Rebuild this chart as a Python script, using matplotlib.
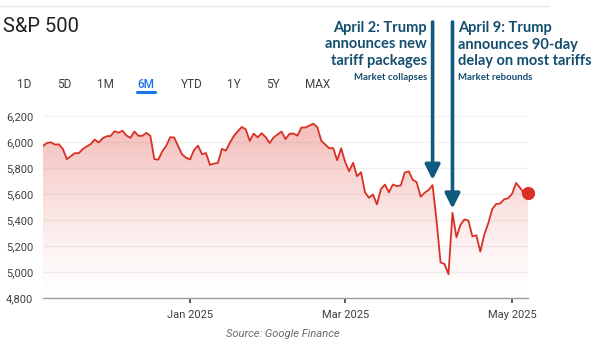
import matplotlib
matplotlib.use("Agg")
import matplotlib.pyplot as plt
import numpy as np
from matplotlib.patches import Polygon
from matplotlib.colors import to_rgb

# S&P 500 daily closes, trading days only
dates = [
    "2024-11-07", "2024-11-08", "2024-11-11", "2024-11-12", "2024-11-13", "2024-11-14", "2024-11-15",
    "2024-11-18", "2024-11-19", "2024-11-20", "2024-11-21", "2024-11-22", "2024-11-25", "2024-11-26",
    "2024-11-27", "2024-11-29",
    "2024-12-02", "2024-12-03", "2024-12-04", "2024-12-05", "2024-12-06", "2024-12-09", "2024-12-10",
    "2024-12-11", "2024-12-12", "2024-12-13", "2024-12-16", "2024-12-17", "2024-12-18", "2024-12-19",
    "2024-12-20", "2024-12-23", "2024-12-24", "2024-12-26", "2024-12-27", "2024-12-30", "2024-12-31",
    "2025-01-02", "2025-01-03", "2025-01-06", "2025-01-07", "2025-01-08", "2025-01-10", "2025-01-13",
    "2025-01-14", "2025-01-15", "2025-01-16", "2025-01-17", "2025-01-21", "2025-01-22", "2025-01-23",
    "2025-01-24", "2025-01-27", "2025-01-28", "2025-01-29", "2025-01-30", "2025-01-31",
    "2025-02-03", "2025-02-04", "2025-02-05", "2025-02-06", "2025-02-07", "2025-02-10", "2025-02-11",
    "2025-02-12", "2025-02-13", "2025-02-14", "2025-02-18", "2025-02-19", "2025-02-20", "2025-02-21",
    "2025-02-24", "2025-02-25", "2025-02-26", "2025-02-27", "2025-02-28",
    "2025-03-03", "2025-03-04", "2025-03-05", "2025-03-06", "2025-03-07", "2025-03-10", "2025-03-11",
    "2025-03-12", "2025-03-13", "2025-03-14", "2025-03-17", "2025-03-18", "2025-03-19", "2025-03-20",
    "2025-03-21", "2025-03-24", "2025-03-25", "2025-03-26", "2025-03-27", "2025-03-28", "2025-03-31",
    "2025-04-01", "2025-04-02", "2025-04-03", "2025-04-04", "2025-04-07", "2025-04-08", "2025-04-09",
    "2025-04-10", "2025-04-11", "2025-04-14", "2025-04-15", "2025-04-16", "2025-04-17", "2025-04-21",
    "2025-04-22", "2025-04-23", "2025-04-24", "2025-04-25", "2025-04-28", "2025-04-29", "2025-04-30",
    "2025-05-01", "2025-05-02", "2025-05-05", "2025-05-06", "2025-05-07",
]
closes = [
    5973, 5996, 6001, 5984, 5985, 5949, 5871,
    5894, 5917, 5917, 5949, 5969, 5987, 6022,
    5999, 6032,
    6047, 6050, 6086, 6075, 6090, 6053, 6035,
    6084, 6051, 6051, 6074, 6051, 5872, 5867,
    5931, 5974, 6040, 6038, 5971, 5907, 5882,
    5869, 5942, 5975, 5909, 5918, 5827, 5836,
    5843, 5950, 5937, 5997, 6049, 6086, 6119,
    6101, 6012, 6068, 6039, 6071, 6041,
    5995, 6038, 6061, 6084, 6026, 6066, 6069,
    6052, 6115, 6115, 6130, 6144, 6118, 6013,
    5983, 5955, 5956, 5862, 5955,
    5850, 5778, 5843, 5739, 5770, 5615, 5572,
    5599, 5522, 5639, 5675, 5615, 5675, 5663,
    5668, 5768, 5777, 5712, 5693, 5581, 5612,
    5633, 5671, 5397, 5074, 5062, 4983, 5457,
    5268, 5363, 5406, 5397, 5276, 5283, 5158,
    5288, 5376, 5485, 5525, 5529, 5561, 5569,
    5604, 5687, 5650, 5607, 5610,
]
tick_dates = ["2025-01-02", "2025-03-03", "2025-05-01"]
tick_labels = ["Jan 2025", "Mar 2025", "May 2025"]
y_ticks = [4800, 5000, 5200, 5400, 5600, 5800, 6000, 6200]
ranges = ["1D", "5D", "1M", "6M", "YTD", "1Y", "5Y", "MAX"]
active_range = "6M"
events = [
    {"date": "2025-04-02", "lines": ["April 2: Trump", "announces new", "tariff packages"],
     "note": "Market collapses", "side": "left"},
    {"date": "2025-04-09", "lines": ["April 9: Trump", "announces 90-day", "delay on most tariffs"],
     "note": "Market rebounds", "side": "right"},
]

W, H = 594, 346
RED = "#d93025"
NAVY = "#134e6f"
ARROW = "#0f5a7e"

x = np.arange(len(closes))
y = np.array(closes, dtype=float)

fig = plt.figure(figsize=(W / 100, H / 100), dpi=100)
fig.patch.set_facecolor("white")


def fx(px):
    return px / W


def fy(py):
    return 1 - py / H


# thin separator at the top of the card
fig.add_artist(plt.Line2D([0, fx(548)], [fy(6), fy(6)], color="#e6e6e6", lw=1))

fig.text(fx(3), fy(26), "S&P 500", fontsize=14.5, family="Roboto", color="#202124", va="center")

range_x = [24, 64, 105, 146, 192, 234, 273, 318]
for label, rx in zip(ranges, range_x):
    active = label == active_range
    fig.text(fx(rx), fy(84), label, fontsize=8.5, family="Roboto",
             color="#1a73e8" if active else "#3c4043",
             weight="medium" if active else "normal", ha="center", va="center")
    if active:
        fig.add_artist(plt.Line2D([fx(rx - 9), fx(rx + 9)], [fy(92.5), fy(92.5)],
                                  color="#1a73e8", lw=2.2, solid_capstyle="round"))

ax = fig.add_axes([fx(43), fy(298), fx(528) - fx(43), (298 - 110) / H])
ax.set_xlim(0, len(closes) - 1)
ax.set_ylim(4800, 6250)

# gradient fill under the price line, fading out towards the bottom
r, g, b = to_rgb(RED)
n = 256
alpha = 0.32 * np.linspace(0.0, 1.0, n) ** 1.3
grad = np.zeros((n, 1, 4))
grad[..., 0], grad[..., 1], grad[..., 2] = r, g, b
grad[:, 0, 3] = alpha
top = y.max()
img = ax.imshow(grad, extent=[0, len(closes) - 1, 4800, top], origin="lower",
                aspect="auto", zorder=1, interpolation="bilinear")
poly = Polygon(np.column_stack([np.r_[x, x[-1], x[0]], np.r_[y, 4800, 4800]]),
               closed=True, facecolor="none", edgecolor="none")
ax.add_patch(poly)
img.set_clip_path(poly)

ax.plot(x, y, color=RED, lw=1.3, zorder=3, solid_joinstyle="round")
ax.plot(x[-1], y[-1], "o", color=RED, ms=8.5, zorder=4, clip_on=False)

ax.set_yticks(y_ticks)
ax.set_yticklabels([f"{v:,}" for v in y_ticks])
ax.grid(axis="y", color="#f1f1f1", lw=1)
ax.set_axisbelow(True)
tick_pos = [dates.index(d) for d in tick_dates]
ax.set_xticks(tick_pos)
ax.set_xticklabels(tick_labels)
for s in ["top", "right", "left"]:
    ax.spines[s].set_visible(False)
ax.spines["bottom"].set_color("#9aa0a6")
ax.spines["bottom"].set_linewidth(1)
ax.tick_params(axis="y", length=0, pad=7, labelsize=8, labelcolor="#3c4043")
ax.tick_params(axis="x", length=3.5, width=1.2, color="#3c4043", pad=5,
               labelsize=8, labelcolor="#3c4043")
for lab in ax.get_xticklabels() + ax.get_yticklabels():
    lab.set_family("Roboto")
ax.set_facecolor("none")

# event annotations with arrows down to the price line
for ev in events:
    i = dates.index(ev["date"])
    tip_val = y[i] + (40 if ev["side"] == "left" else 32)
    tip_disp = ax.transData.transform((i, tip_val))
    tip_fig = fig.transFigure.inverted().transform(tip_disp)
    ax.annotate("", xy=(i, tip_val), xycoords="data",
                xytext=(tip_fig[0], fy(22)), textcoords="figure fraction",
                arrowprops=dict(arrowstyle="-|>,head_length=9,head_width=4.5",
                                mutation_scale=1, color=ARROW, lw=2.6,
                                shrinkA=0, shrinkB=0),
                annotation_clip=False, zorder=5)
    px = tip_disp[0]
    if ev["side"] == "left":
        tx, ha = px - 5.5, "right"
    else:
        tx, ha = px + 5.5, "left"
    for k, line in enumerate(ev["lines"]):
        fig.text(tx / W, fy(28 + 16.5 * k), line, fontsize=10.5, family="Lato",
                 weight="bold", color=NAVY, ha=ha, va="center")
    fig.text(tx / W, fy(77), ev["note"], fontsize=6.9, family="Lato",
             weight="bold", color=NAVY, ha=ha, va="center")

fig.text(fx(283), fy(334), "Source: Google Finance", fontsize=8, family="Roboto",
         style="italic", color="#6b6b6b", ha="center", va="center")

fig.savefig("out.png", dpi=100, facecolor="white")
